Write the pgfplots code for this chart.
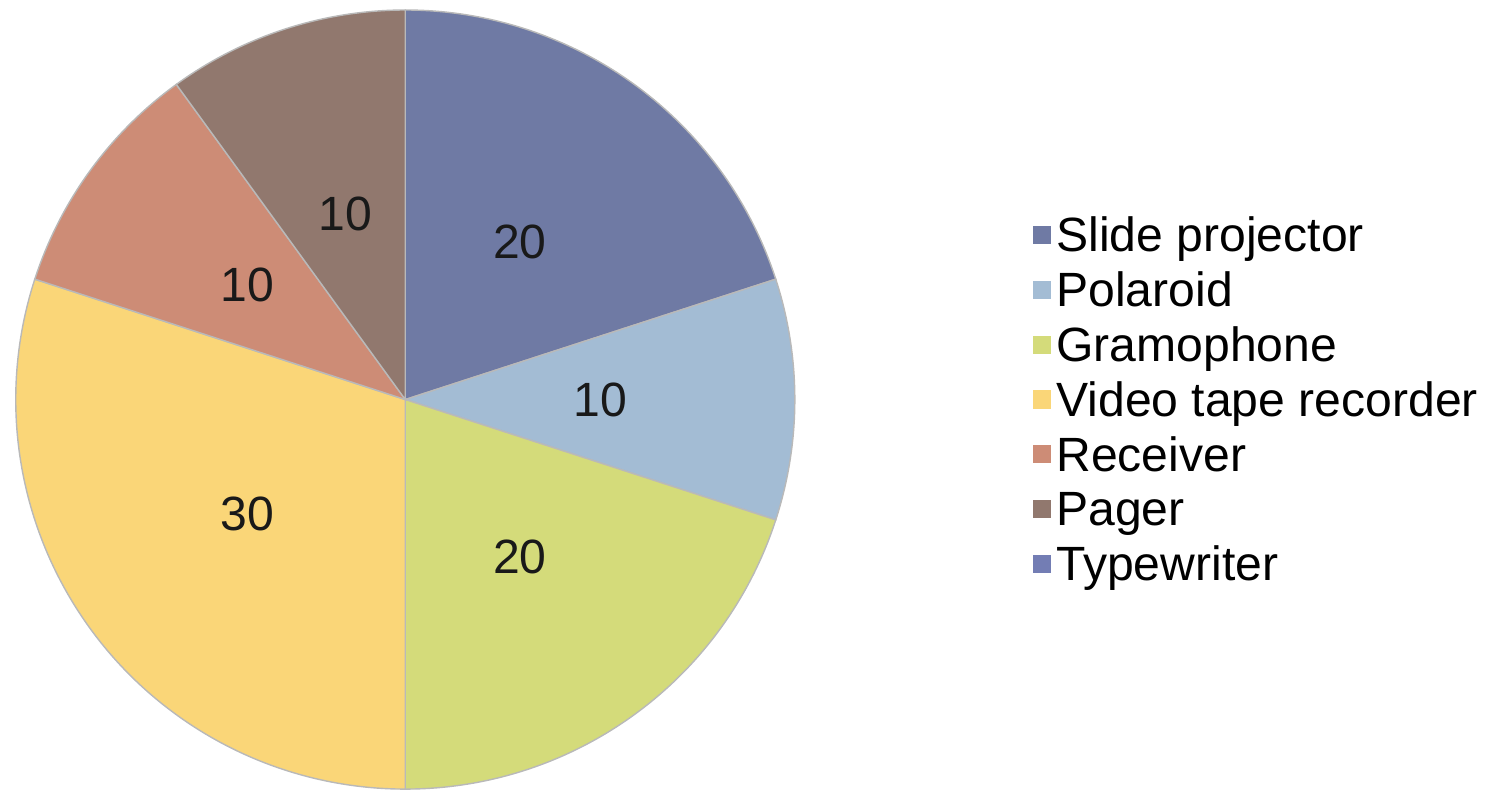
\documentclass[border=0pt]{standalone}
\usepackage{pgfplots}
\pgfplotsset{compat=1.18}
\usepackage{pgfplotstable}
\usepackage{fontspec}
\setmainfont{Liberation Sans}

\definecolor{c0}{RGB}{111,122,164}
\definecolor{c1}{RGB}{163,188,212}
\definecolor{c2}{RGB}{212,219,122}
\definecolor{c3}{RGB}{250,214,120}
\definecolor{c4}{RGB}{205,140,118}
\definecolor{c5}{RGB}{145,120,110}
\definecolor{c6}{RGB}{115,125,180}

\pgfplotstableread{
name value
{Slide projector} 20
Polaroid 10
Gramophone 20
{Video tape recorder} 30
Receiver 10
Pager 10
Typewriter 0
}\piedata

\newcommand\lblfont{\fontsize{13.7}{16}\selectfont}

\begin{document}
\begin{tikzpicture}
\begin{axis}[
  x=1cm, y=1cm,
  xmin=0, xmax=15.01, ymin=0, ymax=7.92,
  hide axis, clip=false,
  legend cell align=left,
  legend image code/.code={\fill[#1] (0cm,2.4pt) rectangle (0.17cm,7.2pt);},
  legend style={
    at={(axis cs:10.32,5.77)}, anchor=north west,
    draw=none, fill=none, inner sep=0pt, outer sep=0pt,
    font=\lblfont, row sep=0pt,
    cells={anchor=base west},
    nodes={inner sep=0pt, text height=10.6pt, text depth=5pt},
    /tikz/every odd column/.append style={column sep=0.055cm},
  },
]
\path (axis cs:0,0) rectangle (axis cs:15.01,7.92);
\def\cum{0}
\pgfplotsforeachungrouped \i in {0,...,6}{%
  \pgfplotstablegetelem{\i}{value}\of\piedata
  \let\v\pgfplotsretval
  \pgfmathsetmacro\aStart{90-3.6*\cum}
  \pgfmathsetmacro\aEnd{90-3.6*(\cum+\v)}
  \pgfmathsetmacro\aMid{(\aStart+\aEnd)/2}
  \pgfmathsetmacro\lx{4.04+1.95*cos(\aMid)}
  \pgfmathsetmacro\ly{3.92+1.95*sin(\aMid)}
  \pgfmathsetmacro\cum{\cum+\v}
  \ifdim\v pt>0pt
    \edef\temp{%
      \noexpand\fill[c\i, draw=gray!55, line width=0.4pt]
        (axis cs:4.04,3.92) -- ++(\aStart:3.9cm)
        arc[start angle=\aStart, end angle=\aEnd, radius=3.9cm] -- cycle;
      \noexpand\node[font=\noexpand\lblfont, text=black!90] at (axis cs:\lx,\ly) {\v};
    }%
    \temp
  \fi
}
\addlegendimage{c0}\addlegendentry{Slide projector}
\addlegendimage{c1}\addlegendentry{Polaroid}
\addlegendimage{c2}\addlegendentry{Gramophone}
\addlegendimage{c3}\addlegendentry{Video tape recorder}
\addlegendimage{c4}\addlegendentry{Receiver}
\addlegendimage{c5}\addlegendentry{Pager}
\addlegendimage{c6}\addlegendentry{Typewriter}
\end{axis}
\end{tikzpicture}
\end{document}
